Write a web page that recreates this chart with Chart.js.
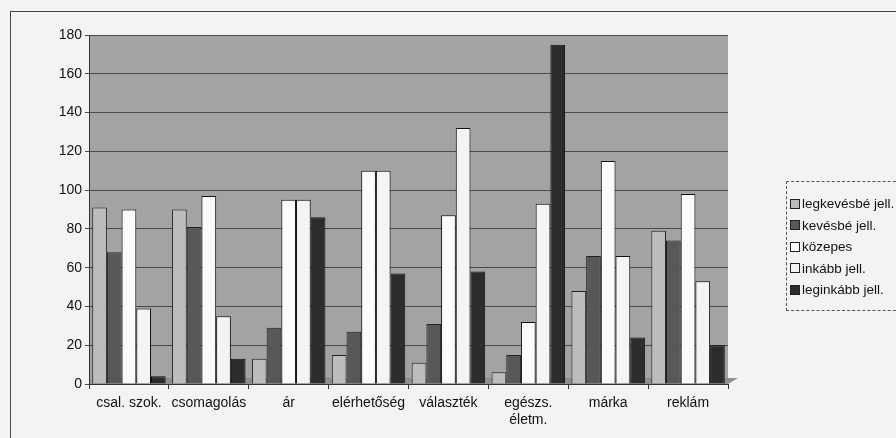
<!DOCTYPE html>
<html>
<head>
<meta charset="utf-8">
<script src="https://cdn.jsdelivr.net/npm/chart.js@4"></script>
<style>
  html, body { margin: 0; padding: 0; background: #f3f3f3; }
  #wrap { position: relative; width: 896px; height: 438px; overflow: hidden; }
  #frame { position: absolute; left: 10px; top: 11px; width: 900px; height: 440px; border: 1px solid #444; box-sizing: border-box; }
  canvas { position: absolute; left: 0; top: 0; }
  #legend { position: absolute; left: 786px; top: 181px; width: 120px; height: 130px; border: 1px dashed #555; box-sizing: border-box; padding-top: 11px; font-family: "Liberation Sans", Arial, sans-serif; font-size: 13.5px; color: #111; }
  .li { height: 21.5px; display: flex; align-items: center; padding-left: 3px; white-space: nowrap; }
  .sw { width: 8px; height: 8px; border: 1px solid #222; margin-right: 2px; flex: none; }
</style>
</head>
<body>
<div id="wrap">
  <div id="frame"></div>
  <canvas id="c" width="896" height="438"></canvas>
  <div id="legend"></div>
</div>
<script>
const categories = ['csal. szok.', 'csomagolás', 'ár', 'elérhetőség', 'választék', ['egészs.', 'életm.'], 'márka', 'reklám'];
const seriesNames = ['legkevésbé jell.', 'kevésbé jell.', 'közepes', 'inkább jell.', 'leginkább jell.'];
const legkevesbe = [91, 90, 13, 15, 11, 6, 48, 79];
const kevesbe    = [68, 81, 29, 27, 31, 15, 66, 74];
const kozepes    = [90, 97, 95, 110, 87, 32, 115, 98];
const inkabb     = [39, 35, 95, 110, 132, 93, 66, 53];
const leginkabb  = [4, 13, 86, 57, 58, 175, 24, 20];
const yTicks = [0, 20, 40, 60, 80, 100, 120, 140, 160, 180];

const colors = ['#bcbcbc', '#585858', '#fbfbfb', '#f4f4f4', '#2c2c2c'];
const borders = ['#222', '#222', '#111', '#111', '#111'];
const values = [legkevesbe, kevesbe, kozepes, inkabb, leginkabb];

const bgPlugin = {
  id: 'bg',
  beforeDraw(chart) {
    const {ctx, chartArea: a} = chart;
    ctx.save();
    ctx.fillStyle = '#a3a3a3';
    ctx.fillRect(a.left, a.top, a.right - a.left, a.bottom - a.top);
    ctx.fillStyle = '#8e8e8e';
    ctx.beginPath();
    ctx.moveTo(a.left, a.bottom);
    ctx.lineTo(a.left + 10, a.bottom - 6);
    ctx.lineTo(a.right + 10, a.bottom - 6);
    ctx.lineTo(a.right, a.bottom);
    ctx.closePath();
    ctx.fill();
    ctx.restore();
  }
};

new Chart(document.getElementById('c'), {
  type: 'bar',
  data: {
    labels: categories,
    datasets: values.map((v, i) => ({
      label: seriesNames[i],
      data: v,
      backgroundColor: colors[i],
      borderColor: borders[i],
      borderWidth: 1,
      categoryPercentage: 0.92,
      barPercentage: 1.0
    }))
  },
  options: {
    responsive: false,
    animation: false,
    layout: { padding: { left: 0, right: 168, top: 35, bottom: 0 } },
    plugins: { legend: { display: false }, tooltip: { enabled: false } },
    scales: {
      x: {
        afterFit(s) { s.height = 54; },
        grid: { drawOnChartArea: false, tickLength: 5, color: '#333', offset: true },
        border: { color: '#333' },
        ticks: { color: '#111', font: { family: 'Liberation Sans', size: 14 }, maxRotation: 0, autoSkip: false, padding: 6 }
      },
      y: {
        min: 0, max: 180,
        afterFit(s) { s.width = 89; },
        afterBuildTicks(s) { s.ticks = yTicks.map(v => ({ value: v })); },
        grid: { color: '#4a4a4a', tickLength: 4, lineWidth: 1 },
        border: { color: '#333' },
        ticks: { color: '#111', font: { family: 'Liberation Sans', size: 14 }, padding: 3 }
      }
    }
  },
  plugins: [bgPlugin]
});

const lg = document.getElementById('legend');
seriesNames.forEach((n, i) => {
  const d = document.createElement('div');
  d.className = 'li';
  d.innerHTML = '<span class="sw" style="background:' + colors[i] + '"></span><span>' + n + '</span>';
  lg.appendChild(d);
});
</script>
</body>
</html>
